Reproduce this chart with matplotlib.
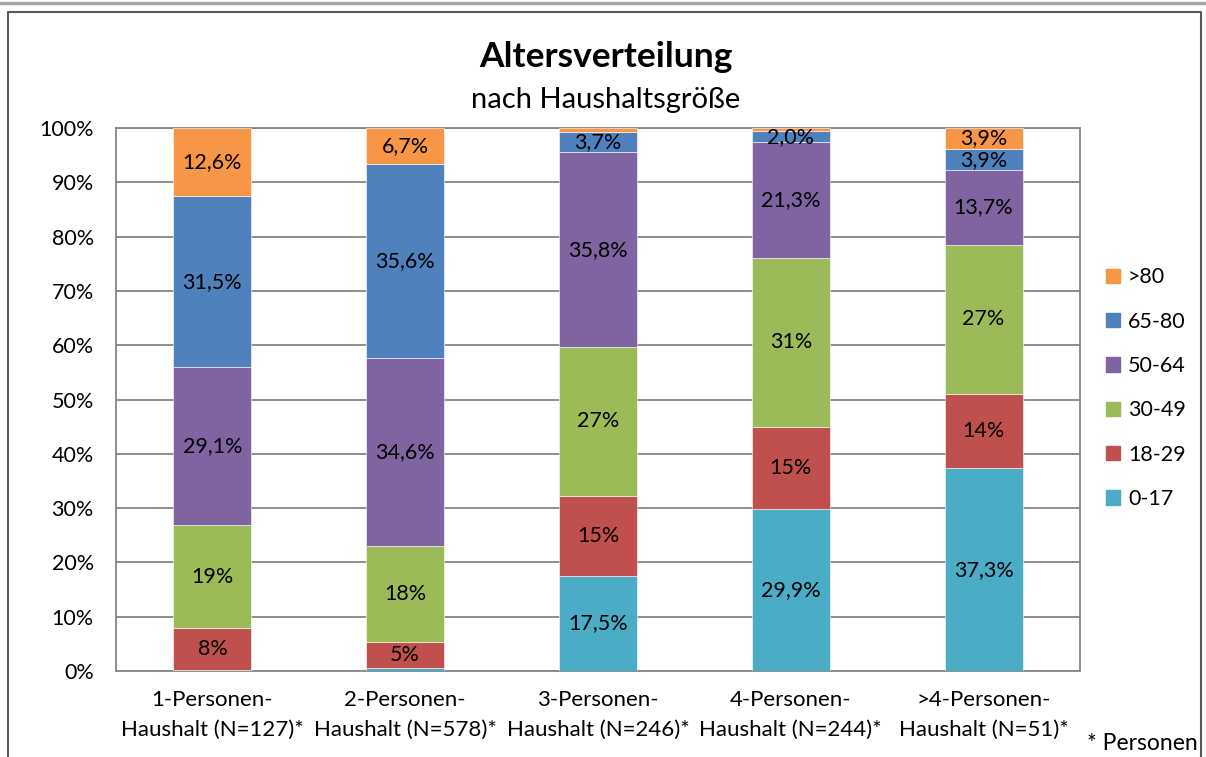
import numpy as np
import matplotlib
matplotlib.use("Agg")
import matplotlib.pyplot as plt
from matplotlib.lines import Line2D
from matplotlib.patches import Patch

plt.rcParams['font.family'] = ['Lato', 'DejaVu Sans']

# Daten
kategorien = ['1-Personen-\nHaushalt (N=127)*', '2-Personen-\nHaushalt (N=578)*',
              '3-Personen-\nHaushalt (N=246)*', '4-Personen-\nHaushalt (N=244)*',
              '>4-Personen-\nHaushalt (N=51)*']
altersgruppen = ['0-17', '18-29', '30-49', '50-64', '65-80', '>80']

a_0_17 = [0.2, 0.6, 17.5, 29.9, 37.3]
a_18_29 = [7.8, 4.7, 14.8, 15.0, 13.7]
a_30_49 = [18.8, 17.8, 27.4, 31.2, 27.5]
a_50_64 = [29.1, 34.6, 35.8, 21.3, 13.7]
a_65_80 = [31.5, 35.6, 3.7, 2.0, 3.9]
a_80 = [12.6, 6.7, 0.8, 0.6, 3.9]

# Beschriftungen wie im Original (None = keine)
lab_0_17 = [None, None, '17,5%', '29,9%', '37,3%']
lab_18_29 = ['8%', '5%', '15%', '15%', '14%']
lab_30_49 = ['19%', '18%', '27%', '31%', '27%']
lab_50_64 = ['29,1%', '34,6%', '35,8%', '21,3%', '13,7%']
lab_65_80 = ['31,5%', '35,6%', '3,7%', '2,0%', '3,9%']
lab_80 = ['12,6%', '6,7%', None, None, '3,9%']

serien = [a_0_17, a_18_29, a_30_49, a_50_64, a_65_80, a_80]
labels = [lab_0_17, lab_18_29, lab_30_49, lab_50_64, lab_65_80, lab_80]
farben = ['#4BACC6', '#C0504D', '#9BBB59', '#8064A2', '#4F81BD', '#F79646']

fs = 15.5

fig = plt.figure(figsize=(12.06, 7.57), dpi=100)
ax = fig.add_axes([116 / 1206, 1 - 671 / 757, 964 / 1206, (671 - 128) / 757])

x = np.arange(len(kategorien))
unten = np.zeros(len(kategorien))
for werte, labs, farbe in zip(serien, labels, farben):
    werte = np.array(werte)
    ax.bar(x, werte, 0.405, bottom=unten, color=farbe, edgecolor='white',
           linewidth=0.4, zorder=3)
    for i, t in enumerate(labs):
        if t is not None:
            ax.text(x[i], unten[i] + werte[i] / 2, t, ha='center', va='center',
                    fontsize=fs, color='black', zorder=4)
    unten += werte

ax.set_xlim(-0.5, len(kategorien) - 0.5)
ax.set_ylim(0, 100)
ax.set_yticks(np.arange(0, 101, 10))
ax.set_yticklabels([f'{v}%' for v in range(0, 101, 10)])
ax.set_xticks(x)
ax.set_xticklabels(kategorien, linespacing=1.6, fontsize=16)
ax.tick_params(axis='both', length=0)
ax.tick_params(axis='y', pad=16, labelsize=fs)
ax.tick_params(axis='x', pad=14)
ax.yaxis.grid(True, color='#868686', linewidth=1.3, zorder=0)
for s in ax.spines.values():
    s.set_color('#868686')
    s.set_linewidth(1.3)

# Legende (umgekehrte Reihenfolge)
handles = [Patch(color=f) for f in farben][::-1]
fig.legend(handles, altersgruppen[::-1], loc='upper left',
           bbox_to_anchor=(1087 / 1206, 1 - 248 / 757), frameon=False,
           fontsize=fs, handlelength=0.65, handleheight=0.65,
           handletextpad=0.35, labelspacing=1.13)

# Titel
fig.text(606 / 1206, 1 - 57 / 757, 'Altersverteilung', ha='center', va='center',
         fontsize=25.5, fontweight='bold')
fig.text(606 / 1206, 1 - 100 / 757, 'nach Haushaltsgröße', ha='center', va='center',
         fontsize=21)
fig.text(1087 / 1206, 1 - 744 / 757, '* Personen', ha='left', va='center', fontsize=16.5)

# Rahmen
fig.add_artist(Line2D([0, 1], [1 - 3 / 757, 1 - 3 / 757], color='#a9a8a0', linewidth=2.5))
fig.add_artist(Line2D([8 / 1206, 8 / 1206, 1201 / 1206, 1201 / 1206],
                      [0, 1 - 12 / 757, 1 - 12 / 757, 0], color='#595959', linewidth=1.5))

fig.savefig('out.png', dpi=100)
